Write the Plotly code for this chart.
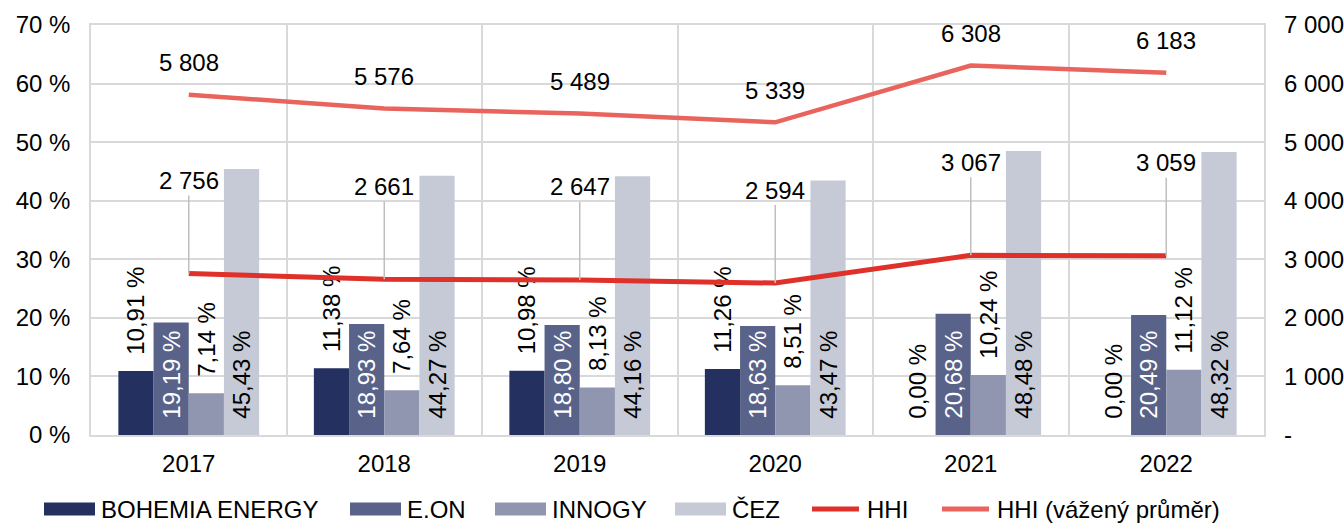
import plotly.graph_objects as go

years = ["2017", "2018", "2019", "2020", "2021", "2022"]
bohemia = [10.91, 11.38, 10.98, 11.26, 0.00, 0.00]
eon = [19.19, 18.93, 18.80, 18.63, 20.68, 20.49]
innogy = [7.14, 7.64, 8.13, 8.51, 10.24, 11.12]
cez = [45.43, 44.27, 44.16, 43.47, 48.48, 48.32]
hhi = [2756, 2661, 2647, 2594, 3067, 3059]
hhi_w = [5808, 5576, 5489, 5339, 6308, 6183]

left_ticks = [0, 10, 20, 30, 40, 50, 60, 70]
left_text = ["0 %", "10 %", "20 %", "30 %", "40 %", "50 %", "60 %", "70 %"]
right_ticks = [0, 1000, 2000, 3000, 4000, 5000, 6000, 7000]
right_text = ["-", "1 000", "2 000", "3 000", "4 000", "5 000", "6 000", "7 000"]

legend_names = ["BOHEMIA ENERGY", "E.ON", "INNOGY", "ČEZ", "HHI", "HHI (vážený průměr)"]

FONT = "Liberation Sans, Arial, sans-serif"
FS = 24
C_BOH = "#243060"
C_EON = "#596389"
C_INN = "#9096B0"
C_CEZ = "#C6CAD6"
C_HHI = "#E0302A"
C_HHIW = "#E8645C"
NB = "\u00a0\u00a0"

W, H = 1344, 523
ML, MR, MT, MB = 91, 80, 25, 88
PW = W - ML - MR
PH = H - MT - MB


def pct(v):
    return NB + f"{v:.2f}".replace(".", ",") + " %"


def thou(v):
    return f"{v:,}".replace(",", " ")


fig = go.Figure()

series = [
    (bohemia, C_BOH, "outside", "#000000"),
    (eon, C_EON, "inside", "#FFFFFF"),
    (innogy, C_INN, "outside", "#000000"),
    (cez, C_CEZ, "inside", "#000000"),
]
for (vals, col, pos, tcol), name in zip(series, legend_names[:4]):
    fig.add_trace(go.Bar(
        x=years, y=vals, name=name, marker=dict(color=col, line=dict(width=0)),
        text=[pct(v) for v in vals], textposition=pos, textangle=-90,
        insidetextanchor="start", constraintext="none", cliponaxis=False,
        textfont=dict(family=FONT, size=FS, color=tcol),
        outsidetextfont=dict(family=FONT, size=FS, color="#000000"),
        insidetextfont=dict(family=FONT, size=FS, color=tcol),
        showlegend=False, hoverinfo="skip",
    ))

fig.add_trace(go.Scatter(
    x=years, y=hhi, name=legend_names[4], mode="lines", yaxis="y2",
    line=dict(color=C_HHI, width=5), showlegend=False,
))
fig.add_trace(go.Scatter(
    x=years, y=hhi_w, name=legend_names[5], mode="lines", yaxis="y2",
    line=dict(color=C_HHIW, width=4.5), showlegend=False,
))

annotations = []
for i, v in enumerate(hhi):
    annotations.append(dict(
        x=i, y=v, xref="x", yref="y2", text=thou(v), showarrow=True,
        arrowhead=0, arrowwidth=1.5, arrowcolor="#BFBFBF", ax=0, ay=-93,
        standoff=0, font=dict(family=FONT, size=FS, color="#000000"),
    ))
for i, v in enumerate(hhi_w):
    annotations.append(dict(
        x=i, y=v, xref="x", yref="y2", text=thou(v), showarrow=False,
        yshift=32, font=dict(family=FONT, size=FS, color="#000000"),
    ))

# manual legend (wide symbols like the original)
leg_colors = [C_BOH, C_EON, C_INN, C_CEZ, C_HHI, C_HHIW]
leg_x0 = [44, 350, 495, 675, 810, 940]
sym_w = 51
leg_y = 509
shapes = []
for k, (name, col, x0) in enumerate(zip(legend_names, leg_colors, leg_x0)):
    px0 = (x0 - ML) / PW
    px1 = (x0 + sym_w - ML) / PW
    if k < 4:
        h = 13
        shapes.append(dict(type="rect", xref="paper", yref="paper",
                           x0=px0, x1=px1,
                           y0=(MT + PH - leg_y - h / 2) / PH,
                           y1=(MT + PH - leg_y + h / 2) / PH,
                           fillcolor=col, line=dict(width=0)))
    else:
        yy = (MT + PH - leg_y) / PH
        shapes.append(dict(type="line", xref="paper", yref="paper",
                           x0=px0 + 2 / PW, x1=px1 - 2 / PW, y0=yy, y1=yy,
                           line=dict(color=col, width=5)))
    annotations.append(dict(
        x=(x0 + sym_w + 4 - ML) / PW, y=(MT + PH - leg_y) / PH,
        xref="paper", yref="paper", xanchor="left", yanchor="middle",
        text=name, showarrow=False,
        font=dict(family=FONT, size=FS, color="#000000"),
    ))

GRID = "#D9D9D9"
fig.update_layout(
    width=W, height=H,
    margin=dict(l=ML, r=MR, t=MT, b=MB, autoexpand=False),
    paper_bgcolor="white", plot_bgcolor="white",
    barmode="group", bargap=0.28, bargroupgap=0,
    font=dict(family=FONT, size=FS, color="#000000"),
    showlegend=False,
    xaxis=dict(type="category", range=[-0.5, 5.5], tickson="boundaries",
               showgrid=True, gridcolor=GRID, gridwidth=1.5, ticks="",
               showline=True, linecolor=GRID, linewidth=1.5, mirror=True,
               tickangle=0, automargin=False,
               tickfont=dict(family=FONT, size=FS, color="#000000"),
               ticklabelstandoff=6),
    yaxis=dict(range=[0, 70], tickvals=left_ticks, ticktext=left_text,
               showgrid=True, gridcolor=GRID, gridwidth=1.5, zeroline=False,
               showline=True, linecolor=GRID, linewidth=1.5, mirror=True,
               ticks="", ticklabelstandoff=14, automargin=False,
               tickfont=dict(family=FONT, size=FS, color="#000000")),
    yaxis2=dict(range=[0, 7000], tickvals=right_ticks, ticktext=right_text,
                overlaying="y", side="right", showgrid=False, zeroline=False,
                ticks="", ticklabelstandoff=19, automargin=False,
                tickfont=dict(family=FONT, size=FS, color="#000000")),
    annotations=annotations,
    shapes=shapes,
)

fig.write_html("out.html", config={"displayModeBar": False},
               post_script="document.body.style.margin='0';document.body.style.overflow='hidden';")
